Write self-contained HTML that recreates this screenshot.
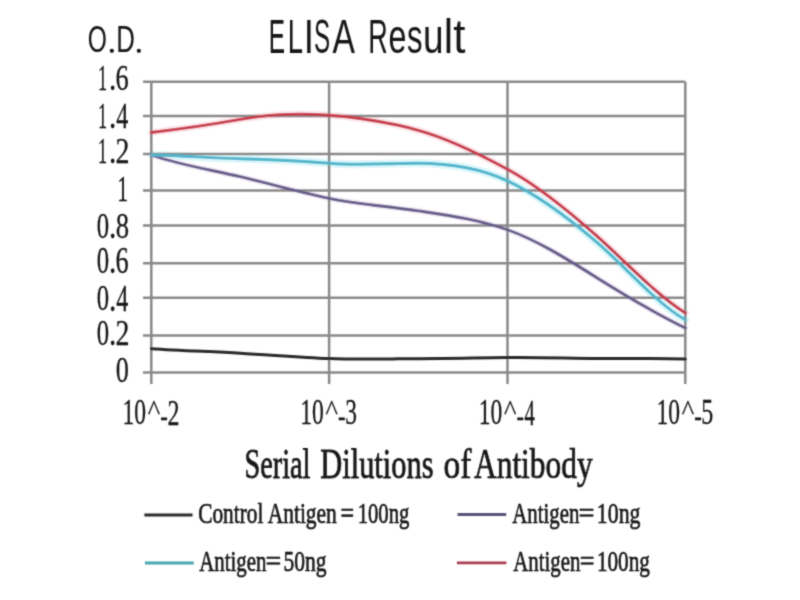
<!DOCTYPE html>
<html><head><meta charset="utf-8"><title>ELISA Result</title>
<style>
html,body{margin:0;padding:0;background:#ffffff;}
body{width:800px;height:600px;overflow:hidden;position:relative;font-family:"Liberation Serif", serif;}
svg{position:absolute;left:0;top:0;}
</style></head>
<body>
<svg width="800" height="600" viewBox="0 0 800 600">
<defs><filter id="soft" x="0" y="0" width="800" height="600" filterUnits="userSpaceOnUse"><feConvolveMatrix order="3" kernelMatrix="0.02768 0.11101 0.02768 0.11101 0.44521 0.11101 0.02768 0.11101 0.02768" divisor="1" edgeMode="duplicate"/></filter></defs>
<rect x="0" y="0" width="800" height="600" fill="#ffffff"/>
<g filter="url(#soft)">
<path d="M151.30,132.49 C180.93,128.93 210.57,124.76 240.20,119.40 C269.83,114.04 299.47,113.03 329.10,115.18 C358.83,117.34 388.57,122.15 418.30,130.28 C448.03,138.41 477.77,153.10 507.50,169.24 C537.13,185.33 566.77,209.34 596.40,235.67 C626.03,261.99 655.67,294.30 685.30,312.96" fill="none" stroke="#fce6ea" stroke-width="7" stroke-linecap="round" stroke-linejoin="round"/>
<path d="M151.30,155.00 C180.93,155.51 210.57,158.03 240.20,158.70 C269.83,159.36 299.47,160.70 329.10,163.30 C358.83,165.91 388.57,163.14 418.30,163.22 C448.03,163.30 477.77,167.00 507.50,180.88 C537.13,194.72 566.77,216.55 596.40,241.91 C626.03,267.27 655.67,302.81 685.30,319.79" fill="none" stroke="#dcf7fb" stroke-width="8" stroke-linecap="round" stroke-linejoin="round"/>
<path d="M151.30,155.00 C180.93,165.25 210.57,169.70 240.20,176.70 C269.83,183.70 299.47,192.34 329.10,198.30 C358.83,204.29 388.57,206.41 418.30,210.83 C448.03,215.24 477.77,219.18 507.50,229.75 C537.13,240.28 566.77,258.88 596.40,277.41 C626.03,295.95 655.67,313.63 685.30,327.95" fill="none" stroke="#f1edf7" stroke-width="6" stroke-linecap="round" stroke-linejoin="round"/>
<line x1="143" y1="81.8" x2="685.3" y2="81.8" stroke="#8a8a8a" stroke-width="2.5"/>
<line x1="143" y1="116" x2="685.3" y2="116" stroke="#8a8a8a" stroke-width="2.5"/>
<line x1="143" y1="154" x2="685.3" y2="154" stroke="#8a8a8a" stroke-width="2.5"/>
<line x1="143" y1="190.6" x2="685.3" y2="190.6" stroke="#8a8a8a" stroke-width="2.5"/>
<line x1="143" y1="225.6" x2="685.3" y2="225.6" stroke="#8a8a8a" stroke-width="2.5"/>
<line x1="143" y1="263.3" x2="685.3" y2="263.3" stroke="#8a8a8a" stroke-width="2.5"/>
<line x1="143" y1="297.8" x2="685.3" y2="297.8" stroke="#8a8a8a" stroke-width="2.5"/>
<line x1="143" y1="335.6" x2="685.3" y2="335.6" stroke="#8a8a8a" stroke-width="2.5"/>
<line x1="143" y1="372.6" x2="685.3" y2="372.6" stroke="#8a8a8a" stroke-width="2.5"/>
<line x1="151.3" y1="81.8" x2="151.3" y2="384" stroke="#8a8a8a" stroke-width="2.5"/>
<line x1="329.1" y1="81.8" x2="329.1" y2="384" stroke="#8a8a8a" stroke-width="2.5"/>
<line x1="507.5" y1="81.8" x2="507.5" y2="384" stroke="#8a8a8a" stroke-width="2.5"/>
<line x1="685.3" y1="81.8" x2="685.3" y2="384" stroke="#8a8a8a" stroke-width="2.5"/>
<path d="M151.30,348.75 C180.93,350.64 210.57,351.55 240.20,353.18 C269.83,354.80 299.47,357.38 329.10,358.49 C358.83,359.62 388.57,358.77 418.30,358.69 C448.03,358.62 477.77,357.92 507.50,357.62 C537.13,357.31 566.77,358.28 596.40,358.53 C626.03,358.77 655.67,358.27 685.30,359.00" fill="none" stroke="#2a2a2a" stroke-width="3.0" stroke-linecap="round" stroke-linejoin="round"/>
<path d="M151.30,155.00 C180.93,165.25 210.57,169.70 240.20,176.70 C269.83,183.70 299.47,192.34 329.10,198.30 C358.83,204.29 388.57,206.41 418.30,210.83 C448.03,215.24 477.77,219.18 507.50,229.75 C537.13,240.28 566.77,258.88 596.40,277.41 C626.03,295.95 655.67,313.63 685.30,327.95" fill="none" stroke="#675b8a" stroke-width="2.9" stroke-linecap="round" stroke-linejoin="round"/>
<path d="M151.30,155.00 C180.93,155.51 210.57,158.03 240.20,158.70 C269.83,159.36 299.47,160.70 329.10,163.30 C358.83,165.91 388.57,163.14 418.30,163.22 C448.03,163.30 477.77,167.00 507.50,180.88 C537.13,194.72 566.77,216.55 596.40,241.91 C626.03,267.27 655.67,302.81 685.30,319.79" fill="none" stroke="#4fb6cc" stroke-width="2.9" stroke-linecap="round" stroke-linejoin="round"/>
<path d="M151.30,132.49 C180.93,128.93 210.57,124.76 240.20,119.40 C269.83,114.04 299.47,113.03 329.10,115.18 C358.83,117.34 388.57,122.15 418.30,130.28 C448.03,138.41 477.77,153.10 507.50,169.24 C537.13,185.33 566.77,209.34 596.40,235.67 C626.03,261.99 655.67,294.30 685.30,312.96" fill="none" stroke="#c83a4c" stroke-width="2.9" stroke-linecap="round" stroke-linejoin="round"/>
<line x1="144.4" y1="514.9" x2="192.5" y2="514.9" stroke="#2a2a2a" stroke-width="3.0"/>
<line x1="457.5" y1="514.5" x2="506.25" y2="514.5" stroke="#5a5478" stroke-width="2.8"/>
<line x1="145" y1="563" x2="193.75" y2="563" stroke="#48a8b0" stroke-width="2.8"/>
<line x1="456.9" y1="562.9" x2="506.4" y2="562.9" stroke="#a83c52" stroke-width="2.8"/>
<text transform="translate(87.64,52.20) scale(0.6803,1)" font-family='"Liberation Sans", sans-serif' font-weight="normal" font-size="36.16" fill="#151515">O</text>
<text transform="translate(116.34,52.20) scale(0.7135,1)" font-family='"Liberation Sans", sans-serif' font-weight="normal" font-size="36.16" fill="#151515">D</text>
<text transform="translate(268.65,52.70) scale(0.4982,1)" font-family='"Liberation Sans", sans-serif' font-weight="normal" font-size="48.99" fill="#151515">E</text>
<text transform="translate(287.71,52.70) scale(0.5597,1)" font-family='"Liberation Sans", sans-serif' font-weight="normal" font-size="48.99" fill="#151515">L</text>
<text transform="translate(303.68,52.70) scale(0.7521,1)" font-family='"Liberation Sans", sans-serif' font-weight="normal" font-size="48.99" fill="#151515">I</text>
<text transform="translate(313.91,52.70) scale(0.4935,1)" font-family='"Liberation Sans", sans-serif' font-weight="normal" font-size="48.99" fill="#151515">S</text>
<text transform="translate(332.43,52.70) scale(0.6867,1)" font-family='"Liberation Sans", sans-serif' font-weight="normal" font-size="48.99" fill="#151515">A</text>
<text transform="translate(368.34,52.70) scale(0.5524,1)" font-family='"Liberation Sans", sans-serif' font-weight="normal" font-size="48.99" fill="#151515">R</text>
<text transform="translate(388.55,52.70) scale(0.6585,1)" font-family='"Liberation Sans", sans-serif' font-weight="normal" font-size="48.99" fill="#151515">e</text>
<text transform="translate(407.07,52.70) scale(0.6335,1)" font-family='"Liberation Sans", sans-serif' font-weight="normal" font-size="48.99" fill="#151515">s</text>
<text transform="translate(422.90,52.70) scale(0.7541,1)" font-family='"Liberation Sans", sans-serif' font-weight="normal" font-size="48.99" fill="#151515">u</text>
<text transform="translate(443.66,52.70) scale(0.8619,1)" font-family='"Liberation Sans", sans-serif' font-weight="normal" font-size="48.99" fill="#151515">l</text>
<text transform="translate(453.34,52.70) scale(0.8966,1)" font-family='"Liberation Sans", sans-serif' font-weight="normal" font-size="48.99" fill="#151515">t</text>
<text transform="translate(97.95,90.30) scale(0.5029,1)" font-family='"Liberation Serif", serif' font-weight="normal" font-size="36.36" fill="#151515" stroke="#151515" stroke-width="0.25" vector-effect="non-scaling-stroke" stroke-linejoin="round">1</text>
<text transform="translate(108.90,90.30) scale(0.8021,1)" font-family='"Liberation Serif", serif' font-weight="normal" font-size="36.36" fill="#151515" stroke="#151515" stroke-width="0.25" vector-effect="non-scaling-stroke" stroke-linejoin="round">.</text>
<text transform="translate(115.61,89.94) scale(0.7357,1)" font-family='"Liberation Serif", serif' font-weight="normal" font-size="35.82" fill="#151515" stroke="#151515" stroke-width="0.25" vector-effect="non-scaling-stroke" stroke-linejoin="round">6</text>
<text transform="translate(97.95,128.40) scale(0.5071,1)" font-family='"Liberation Serif", serif' font-weight="normal" font-size="36.06" fill="#151515" stroke="#151515" stroke-width="0.25" vector-effect="non-scaling-stroke" stroke-linejoin="round">1</text>
<text transform="translate(108.90,128.40) scale(0.8088,1)" font-family='"Liberation Serif", serif' font-weight="normal" font-size="36.06" fill="#151515" stroke="#151515" stroke-width="0.25" vector-effect="non-scaling-stroke" stroke-linejoin="round">.</text>
<text transform="translate(116.32,128.40) scale(0.6679,1)" font-family='"Liberation Serif", serif' font-weight="normal" font-size="36.06" fill="#151515" stroke="#151515" stroke-width="0.25" vector-effect="non-scaling-stroke" stroke-linejoin="round">4</text>
<text transform="translate(97.95,163.30) scale(0.5050,1)" font-family='"Liberation Serif", serif' font-weight="normal" font-size="36.21" fill="#151515" stroke="#151515" stroke-width="0.25" vector-effect="non-scaling-stroke" stroke-linejoin="round">1</text>
<text transform="translate(108.90,163.30) scale(0.8054,1)" font-family='"Liberation Serif", serif' font-weight="normal" font-size="36.21" fill="#151515" stroke="#151515" stroke-width="0.25" vector-effect="non-scaling-stroke" stroke-linejoin="round">.</text>
<text transform="translate(115.54,163.30) scale(0.7732,1)" font-family='"Liberation Serif", serif' font-weight="normal" font-size="36.21" fill="#151515" stroke="#151515" stroke-width="0.25" vector-effect="non-scaling-stroke" stroke-linejoin="round">2</text>
<text transform="translate(117.25,200.50) scale(0.6098,1)" font-family='"Liberation Serif", serif' font-weight="normal" font-size="35.61" fill="#151515" stroke="#151515" stroke-width="0.25" vector-effect="non-scaling-stroke" stroke-linejoin="round">1</text>
<text transform="translate(96.71,237.64) scale(0.6907,1)" font-family='"Liberation Serif", serif' font-weight="normal" font-size="35.85" fill="#151515" stroke="#151515" stroke-width="0.25" vector-effect="non-scaling-stroke" stroke-linejoin="round">0</text>
<text transform="translate(108.90,238.00) scale(0.7955,1)" font-family='"Liberation Serif", serif' font-weight="normal" font-size="36.67" fill="#151515" stroke="#151515" stroke-width="0.25" vector-effect="non-scaling-stroke" stroke-linejoin="round">.</text>
<text transform="translate(115.73,237.64) scale(0.7438,1)" font-family='"Liberation Serif", serif' font-weight="normal" font-size="35.85" fill="#151515" stroke="#151515" stroke-width="0.25" vector-effect="non-scaling-stroke" stroke-linejoin="round">8</text>
<text transform="translate(96.71,272.53) scale(0.6713,1)" font-family='"Liberation Serif", serif' font-weight="normal" font-size="36.89" fill="#151515" stroke="#151515" stroke-width="0.25" vector-effect="non-scaling-stroke" stroke-linejoin="round">0</text>
<text transform="translate(108.90,272.90) scale(0.7731,1)" font-family='"Liberation Serif", serif' font-weight="normal" font-size="37.73" fill="#151515" stroke="#151515" stroke-width="0.25" vector-effect="non-scaling-stroke" stroke-linejoin="round">.</text>
<text transform="translate(115.61,272.53) scale(0.7091,1)" font-family='"Liberation Serif", serif' font-weight="normal" font-size="37.16" fill="#151515" stroke="#151515" stroke-width="0.25" vector-effect="non-scaling-stroke" stroke-linejoin="round">6</text>
<text transform="translate(96.71,310.13) scale(0.6740,1)" font-family='"Liberation Serif", serif' font-weight="normal" font-size="36.74" fill="#151515" stroke="#151515" stroke-width="0.25" vector-effect="non-scaling-stroke" stroke-linejoin="round">0</text>
<text transform="translate(108.90,310.50) scale(0.7762,1)" font-family='"Liberation Serif", serif' font-weight="normal" font-size="37.58" fill="#151515" stroke="#151515" stroke-width="0.25" vector-effect="non-scaling-stroke" stroke-linejoin="round">.</text>
<text transform="translate(116.32,310.50) scale(0.6410,1)" font-family='"Liberation Serif", serif' font-weight="normal" font-size="37.58" fill="#151515" stroke="#151515" stroke-width="0.25" vector-effect="non-scaling-stroke" stroke-linejoin="round">4</text>
<text transform="translate(96.71,344.55) scale(0.7112,1)" font-family='"Liberation Serif", serif' font-weight="normal" font-size="34.81" fill="#151515" stroke="#151515" stroke-width="0.25" vector-effect="non-scaling-stroke" stroke-linejoin="round">0</text>
<text transform="translate(108.90,344.90) scale(0.8191,1)" font-family='"Liberation Serif", serif' font-weight="normal" font-size="35.61" fill="#151515" stroke="#151515" stroke-width="0.25" vector-effect="non-scaling-stroke" stroke-linejoin="round">.</text>
<text transform="translate(115.54,344.90) scale(0.7864,1)" font-family='"Liberation Serif", serif' font-weight="normal" font-size="35.61" fill="#151515" stroke="#151515" stroke-width="0.25" vector-effect="non-scaling-stroke" stroke-linejoin="round">2</text>
<text transform="translate(115.75,381.64) scale(0.7366,1)" font-family='"Liberation Serif", serif' font-weight="normal" font-size="35.56" fill="#151515" stroke="#151515" stroke-width="0.25" vector-effect="non-scaling-stroke" stroke-linejoin="round">0</text>
<text transform="translate(122.48,424.44) scale(0.6627,1)" font-family='"Liberation Serif", serif' font-weight="normal" font-size="35.56" fill="#151515" stroke="#151515" stroke-width="0.25" vector-effect="non-scaling-stroke" stroke-linejoin="round">10</text>
<text transform="translate(147.80,419.33) scale(0.9967,1)" font-family='"Liberation Serif", serif' font-weight="normal" font-size="26.45" fill="#151515" stroke="#151515" stroke-width="0.25" vector-effect="non-scaling-stroke" stroke-linejoin="round">^</text>
<text transform="translate(160.21,425.63) scale(0.7400,1)" font-family='"Liberation Serif", serif' font-weight="normal" font-size="30.67" fill="#151515" stroke="#151515" stroke-width="0.25" vector-effect="non-scaling-stroke" stroke-linejoin="round">-</text>
<text transform="translate(167.52,424.80) scale(0.6600,1)" font-family='"Liberation Serif", serif' font-weight="normal" font-size="36.36" fill="#151515" stroke="#151515" stroke-width="0.25" vector-effect="non-scaling-stroke" stroke-linejoin="round">2</text>
<text transform="translate(300.28,424.44) scale(0.6627,1)" font-family='"Liberation Serif", serif' font-weight="normal" font-size="35.56" fill="#151515" stroke="#151515" stroke-width="0.25" vector-effect="non-scaling-stroke" stroke-linejoin="round">10</text>
<text transform="translate(325.60,419.33) scale(0.9967,1)" font-family='"Liberation Serif", serif' font-weight="normal" font-size="26.45" fill="#151515" stroke="#151515" stroke-width="0.25" vector-effect="non-scaling-stroke" stroke-linejoin="round">^</text>
<text transform="translate(338.01,425.63) scale(0.7400,1)" font-family='"Liberation Serif", serif' font-weight="normal" font-size="30.67" fill="#151515" stroke="#151515" stroke-width="0.25" vector-effect="non-scaling-stroke" stroke-linejoin="round">-</text>
<text transform="translate(345.23,424.44) scale(0.6537,1)" font-family='"Liberation Serif", serif' font-weight="normal" font-size="35.82" fill="#151515" stroke="#151515" stroke-width="0.25" vector-effect="non-scaling-stroke" stroke-linejoin="round">3</text>
<text transform="translate(478.68,424.44) scale(0.6627,1)" font-family='"Liberation Serif", serif' font-weight="normal" font-size="35.56" fill="#151515" stroke="#151515" stroke-width="0.25" vector-effect="non-scaling-stroke" stroke-linejoin="round">10</text>
<text transform="translate(504.00,419.33) scale(0.9967,1)" font-family='"Liberation Serif", serif' font-weight="normal" font-size="26.45" fill="#151515" stroke="#151515" stroke-width="0.25" vector-effect="non-scaling-stroke" stroke-linejoin="round">^</text>
<text transform="translate(516.41,425.63) scale(0.7400,1)" font-family='"Liberation Serif", serif' font-weight="normal" font-size="30.67" fill="#151515" stroke="#151515" stroke-width="0.25" vector-effect="non-scaling-stroke" stroke-linejoin="round">-</text>
<text transform="translate(524.39,424.80) scale(0.5677,1)" font-family='"Liberation Serif", serif' font-weight="normal" font-size="36.36" fill="#151515" stroke="#151515" stroke-width="0.25" vector-effect="non-scaling-stroke" stroke-linejoin="round">4</text>
<text transform="translate(656.48,424.44) scale(0.6627,1)" font-family='"Liberation Serif", serif' font-weight="normal" font-size="35.56" fill="#151515" stroke="#151515" stroke-width="0.25" vector-effect="non-scaling-stroke" stroke-linejoin="round">10</text>
<text transform="translate(681.80,419.33) scale(0.9967,1)" font-family='"Liberation Serif", serif' font-weight="normal" font-size="26.45" fill="#151515" stroke="#151515" stroke-width="0.25" vector-effect="non-scaling-stroke" stroke-linejoin="round">^</text>
<text transform="translate(694.21,425.63) scale(0.7400,1)" font-family='"Liberation Serif", serif' font-weight="normal" font-size="30.67" fill="#151515" stroke="#151515" stroke-width="0.25" vector-effect="non-scaling-stroke" stroke-linejoin="round">-</text>
<text transform="translate(701.16,424.44) scale(0.6650,1)" font-family='"Liberation Serif", serif' font-weight="normal" font-size="36.09" fill="#151515" stroke="#151515" stroke-width="0.25" vector-effect="non-scaling-stroke" stroke-linejoin="round">5</text>
<text transform="translate(244.41,478.00) scale(0.6561,1)" font-family='"Liberation Serif", serif' font-weight="normal" font-size="43.18" fill="#151515" stroke="#151515" stroke-width="0.65" vector-effect="non-scaling-stroke" stroke-linejoin="round">Serial</text>
<text transform="translate(320.34,478.00) scale(0.7039,1)" font-family='"Liberation Serif", serif' font-weight="normal" font-size="43.18" fill="#151515" stroke="#151515" stroke-width="0.65" vector-effect="non-scaling-stroke" stroke-linejoin="round">Dilutions</text>
<text transform="translate(443.56,478.00) scale(0.7748,1)" font-family='"Liberation Serif", serif' font-weight="normal" font-size="43.18" fill="#151515" stroke="#151515" stroke-width="0.65" vector-effect="non-scaling-stroke" stroke-linejoin="round">of</text>
<text transform="translate(473.99,478.00) scale(0.7276,1)" font-family='"Liberation Serif", serif' font-weight="normal" font-size="43.18" fill="#151515" stroke="#151515" stroke-width="0.65" vector-effect="non-scaling-stroke" stroke-linejoin="round">Antibody</text>
<text transform="translate(198.25,523.40) scale(0.7064,1)" font-family='"Liberation Serif", serif' font-weight="normal" font-size="30.15" fill="#151515" stroke="#151515" stroke-width="0.55" vector-effect="non-scaling-stroke" stroke-linejoin="round">Control</text>
<text transform="translate(267.69,523.40) scale(0.7121,1)" font-family='"Liberation Serif", serif' font-weight="normal" font-size="30.15" fill="#151515" stroke="#151515" stroke-width="0.55" vector-effect="non-scaling-stroke" stroke-linejoin="round">Antigen</text>
<text transform="translate(340.60,523.40) scale(0.7988,1)" font-family='"Liberation Serif", serif' font-weight="normal" font-size="30.15" fill="#151515" stroke="#151515" stroke-width="0.55" vector-effect="non-scaling-stroke" stroke-linejoin="round">=</text>
<text transform="translate(357.64,523.40) scale(0.6869,1)" font-family='"Liberation Serif", serif' font-weight="normal" font-size="30.15" fill="#151515" stroke="#151515" stroke-width="0.55" vector-effect="non-scaling-stroke" stroke-linejoin="round">100ng</text>
<text transform="translate(512.29,523.30) scale(0.6984,1)" font-family='"Liberation Serif", serif' font-weight="normal" font-size="29.85" fill="#151515" stroke="#151515" stroke-width="0.55" vector-effect="non-scaling-stroke" stroke-linejoin="round">Antigen</text>
<text transform="translate(578.58,523.30) scale(0.9510,1)" font-family='"Liberation Serif", serif' font-weight="normal" font-size="29.85" fill="#151515" stroke="#151515" stroke-width="0.55" vector-effect="non-scaling-stroke" stroke-linejoin="round">=</text>
<text transform="translate(596.84,523.30) scale(0.7303,1)" font-family='"Liberation Serif", serif' font-weight="normal" font-size="29.85" fill="#151515" stroke="#151515" stroke-width="0.55" vector-effect="non-scaling-stroke" stroke-linejoin="round">10ng</text>
<text transform="translate(199.19,571.30) scale(0.6984,1)" font-family='"Liberation Serif", serif' font-weight="normal" font-size="29.85" fill="#151515" stroke="#151515" stroke-width="0.55" vector-effect="non-scaling-stroke" stroke-linejoin="round">Antigen</text>
<text transform="translate(265.60,571.30) scale(0.9366,1)" font-family='"Liberation Serif", serif' font-weight="normal" font-size="29.85" fill="#151515" stroke="#151515" stroke-width="0.55" vector-effect="non-scaling-stroke" stroke-linejoin="round">=</text>
<text transform="translate(283.41,571.30) scale(0.7207,1)" font-family='"Liberation Serif", serif' font-weight="normal" font-size="29.85" fill="#151515" stroke="#151515" stroke-width="0.55" vector-effect="non-scaling-stroke" stroke-linejoin="round">50ng</text>
<text transform="translate(513.19,570.80) scale(0.6879,1)" font-family='"Liberation Serif", serif' font-weight="normal" font-size="30.30" fill="#151515" stroke="#151515" stroke-width="0.55" vector-effect="non-scaling-stroke" stroke-linejoin="round">Antigen</text>
<text transform="translate(579.69,570.80) scale(0.8658,1)" font-family='"Liberation Serif", serif' font-weight="normal" font-size="30.30" fill="#151515" stroke="#151515" stroke-width="0.55" vector-effect="non-scaling-stroke" stroke-linejoin="round">=</text>
<text transform="translate(596.89,570.80) scale(0.7000,1)" font-family='"Liberation Serif", serif' font-weight="normal" font-size="30.30" fill="#151515" stroke="#151515" stroke-width="0.55" vector-effect="non-scaling-stroke" stroke-linejoin="round">100ng</text>
<circle cx="111.85" cy="50.8" r="2.1" fill="#151515"/>
<circle cx="138.85" cy="50.8" r="2.1" fill="#151515"/>
</g>
</svg>
</body></html>
